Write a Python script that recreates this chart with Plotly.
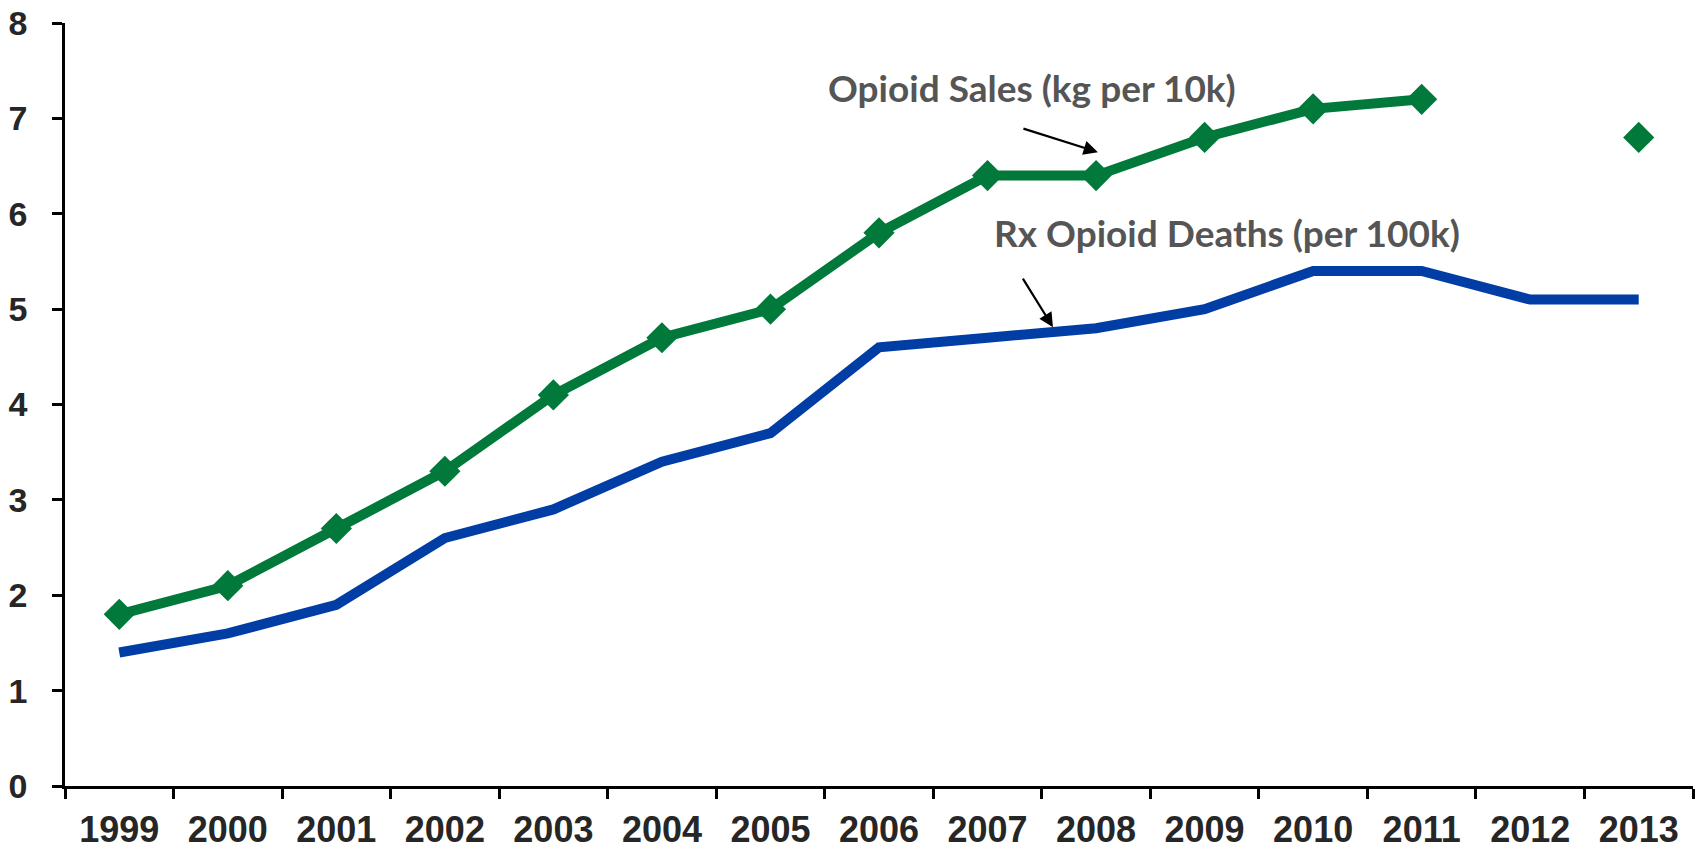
import plotly.graph_objects as go

years = ["1999", "2000", "2001", "2002", "2003", "2004", "2005", "2006",
         "2007", "2008", "2009", "2010", "2011", "2012", "2013"]
opioid_sales = [1.8, 2.1, 2.7, 3.3, 4.1, 4.7, 5.0, 5.8, 6.4, 6.4, 6.8, 7.1, 7.2, None, 6.8]
rx_deaths = [1.4, 1.6, 1.9, 2.6, 2.9, 3.4, 3.7, 4.6, 4.7, 4.8, 5.0, 5.4, 5.4, 5.1, 5.1]
y_ticks = [0, 1, 2, 3, 4, 5, 6, 7, 8]

green = "#00793a"
blue = "#003da5"

fig = go.Figure()
fig.add_trace(go.Scatter(
    x=years, y=rx_deaths, mode="lines",
    line=dict(color=blue, width=10), name="Rx Opioid Deaths (per 100k)",
    showlegend=False, hoverinfo="x+y"))
fig.add_trace(go.Scatter(
    x=years, y=opioid_sales, mode="lines+markers",
    line=dict(color=green, width=10),
    marker=dict(symbol="diamond", size=24, color=green),
    connectgaps=False, name="Opioid Sales (kg per 10k)",
    showlegend=False, hoverinfo="x+y"))

ann_font = dict(family="Lato, Open Sans, sans-serif", size=37, color="#555555", weight="bold")
fig.add_annotation(x=8.41, y=7.327, xref="x", yref="y",
                   text="Opioid Sales (kg per 10k)", showarrow=False,
                   font=ann_font, xanchor="center", yanchor="middle")
fig.add_annotation(x=10.205, y=5.807, xref="x", yref="y",
                   text="Rx Opioid Deaths (per 100k)", showarrow=False,
                   font=ann_font, xanchor="center", yanchor="middle")
fig.add_annotation(x=9.017, y=6.646, ax=8.317, ay=6.897, xref="x", yref="y",
                   axref="x", ayref="y", text="", showarrow=True,
                   arrowhead=2, arrowsize=1.3, arrowwidth=2.2, arrowcolor="black",
                   standoff=0)
fig.add_annotation(x=8.603, y=4.811, ax=8.317, ay=5.335, xref="x", yref="y",
                   axref="x", ayref="y", text="", showarrow=True,
                   arrowhead=2, arrowsize=1.3, arrowwidth=2.2, arrowcolor="black",
                   standoff=0)

fig.update_layout(
    width=1702, height=849,
    margin=dict(l=65, r=9, t=23, b=63, autoexpand=False),
    paper_bgcolor="white", plot_bgcolor="white",
    showlegend=False,
)
fig.update_xaxes(
    type="category", range=[-0.5, 14.5], automargin=False,
    showline=True, linecolor="black", linewidth=2.5,
    ticks="outside", tickson="boundaries", ticklen=10, tickwidth=2.5, tickcolor="black",
    showgrid=False, zeroline=False,
    tickfont=dict(family="Liberation Sans, Arial, sans-serif", size=36, color="#262626",
                  weight="bold"),
    ticklabelstandoff=10, ticklabeloverflow="allow",
)
fig.update_yaxes(
    range=[0, 8], tickvals=y_ticks, automargin=False,
    showline=True, linecolor="black", linewidth=2.5,
    ticks="outside", ticklen=10, tickwidth=2.5, tickcolor="black",
    showgrid=False, zeroline=False,
    tickfont=dict(family="Liberation Sans, Arial, sans-serif", size=34, color="#262626",
                  weight="bold"),
    ticklabelstandoff=18, ticklabeloverflow="allow",
)

fig.write_html("out.html", config={"displayModeBar": False},
               post_script="document.body.style.margin='0';document.body.style.overflow='hidden';")
